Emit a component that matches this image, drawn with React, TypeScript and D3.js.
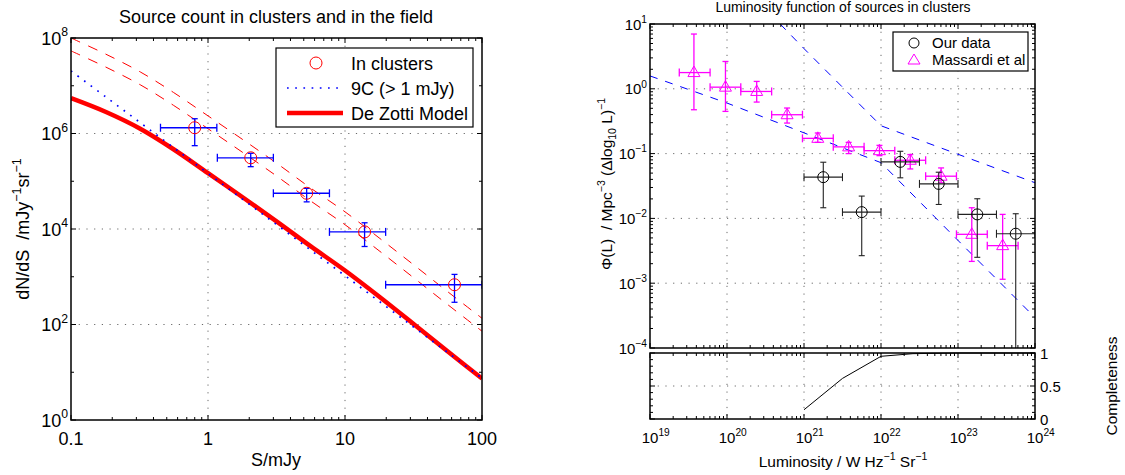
import React from 'react'
import * as d3 from 'd3'

const FONT = '"Liberation Sans", Arial, Helvetica, sans-serif'

// ---------- left panel: source counts ----------
const clusterS = [0.8, 2.05, 5.25, 13.9, 63]
const clusterSLo = [0.45, 1.17, 3.0, 7.7, 19.8]
const clusterSHi = [1.16, 3.0, 7.7, 19.8, 100]
const clusterN = [1.32e6, 3.1e5, 5.6e4, 8.7e3, 680]
const clusterNHi = [2.04e6, 3.85e5, 7.1e4, 1.35e4, 1120]
const clusterNLo = [5.56e5, 2.02e5, 3.7e4, 4.3e3, 292]

const modelS = [0.1, 0.18, 0.32, 0.56, 1, 1.8, 3.2, 5.6, 10, 18, 32, 56, 100]
const deZotti = [5.5e6, 2.82e6, 1.26e6, 4.68e5, 1.48e5, 4.57e4, 1.41e4, 4.37e3, 1.35e3, 372, 100, 27.5, 7.4]
const nineC = [2.04e7, 5.8e6, 1.69e6, 5.08e5, 1.46e5, 4.15e4, 1.21e4, 3.64e3, 1.05e3, 297, 86.5, 26.1, 7.5]
const clusterUpper = [1.0e8, 4.57e7, 1.95e7, 7.24e6, 2.34e6, 7.41e5, 2.34e5, 7.24e4, 2.29e4, 6.31e3, 1.74e3, 490, 135]
const clusterLower = [5.37e7, 2.45e7, 1.05e7, 3.89e6, 1.26e6, 3.98e5, 1.26e5, 3.89e4, 1.23e4, 3.39e3, 933, 263, 72.4]

const sTickLabels = ['0.1', '1', '10', '100']
const nTickExps = [0, 2, 4, 6, 8]

// ---------- right panel: luminosity function ----------
const ourL = [1.78e21, 5.62e21, 1.78e22, 5.62e22, 1.78e23, 5.62e23]
const ourLLo = [1e21, 3.16e21, 1e22, 3.16e22, 1e23, 3.16e23]
const ourLHi = [3.16e21, 1e22, 3.16e22, 1e23, 3.16e23, 1e24]
const ourPhi = [0.0433, 0.0125, 0.0745, 0.0341, 0.01153, 0.0058]
const ourPhiHi = [0.0736, 0.0221, 0.1086, 0.0516, 0.0201, 0.0118]
const ourPhiLo = [0.0146, 0.00266, 0.0423, 0.0164, 0.00251, 1e-5]

const masL = [3.72e19, 9.55e19, 2.43e20, 6.03e20, 1.51e21, 3.8e21, 9.55e21, 2.4e22, 6.03e22, 1.51e23, 3.8e23]
const masLLo = [2.4e19, 6.03e19, 1.51e20, 3.8e20, 9.55e20, 2.4e21, 6.03e21, 1.51e22, 3.8e22, 9.55e22, 2.4e23]
const masLHi = [6.03e19, 1.51e20, 3.8e20, 9.55e20, 2.4e21, 6.03e21, 1.51e22, 3.8e22, 9.55e22, 2.4e23, 6.03e23]
const masPhi = [1.78, 1.06, 0.91, 0.398, 0.172, 0.127, 0.111, 0.0789, 0.0448, 0.00568, 0.0038]
const masPhiHi = [7.0, 2.64, 1.3, 0.505, 0.208, 0.149, 0.134, 0.0966, 0.0601, 0.0146, 0.01153]
const masPhiLo = [0.475, 0.448, 0.624, 0.296, 0.149, 0.1, 0.093, 0.058, 0.0354, 0.00217, 0.00115]

const modelAL = [1e19, 1e20, 1e21, 1e22, 1e23, 1e24]
const modelAPhi = [1.58, 0.603, 0.209, 0.0724, 0.00457, 0.000295]
const modelBL = [4.9e20, 1e21, 1e22, 1e23, 1e24]
const modelBPhi = [10, 4.17, 0.269, 0.0977, 0.0355]

const complL = [1e21, 3.16e21, 1e22, 2.6e22, 1e23, 1e24]
const complV = [0.14, 0.615, 0.95, 0.99, 1.0, 1.0]

const lTickExps = [19, 20, 21, 22, 23, 24]
const phiTickExps = [1, 0, -1, -2, -3, -4]
const complTicks = [0, 0.5, 1]

// layout
const LP = { x0: 71, x1: 482, y0: 38, y1: 420 }
const RP = { x0: 650, x1: 1035, y0: 24, y1: 348, b0: 353, b1: 419 }

const minus = (e: number) => (e < 0 ? '\u2212' + Math.abs(e) : String(e))
const isDecade = (v: number) => Math.abs(Math.log10(v) - Math.round(Math.log10(v))) < 1e-6

const Pow = ({ x, y, exp, size, anchor }: { x: number; y: number; exp: number; size: number; anchor: string }) => (
  <text x={x} y={y} fontSize={size} textAnchor={anchor}>
    10<tspan dy={-size * 0.45} fontSize={size * 0.68}>{minus(exp)}</tspan>
  </text>
)

const GRID = { stroke: '#444', strokeWidth: 0.8, strokeDasharray: '1.2 6.5' }
const PRE = { whiteSpace: 'pre' as const }

function App() {
  const xL = d3.scaleLog().domain([0.1, 100]).range([LP.x0, LP.x1])
  const yL = d3.scaleLog().domain([1, 1e8]).range([LP.y1, LP.y0])
  const xR = d3.scaleLog().domain([1e19, 1e24]).range([RP.x0, RP.x1])
  const yR = d3.scaleLog().domain([1e-4, 10]).range([RP.y1, RP.y0])
  const yC = d3.scaleLinear().domain([0, 1]).range([RP.b1, RP.b0])

  const leftLine = (vals: number[]) =>
    d3.line<number>().x((_, i) => xL(modelS[i])).y(d => yL(d)).curve(d3.curveCatmullRom.alpha(0.5))(vals) || ''
  const rightLine = (ls: number[], vals: number[]) =>
    d3.line<number>().x((_, i) => xR(ls[i])).y(d => yR(d))(vals) || ''
  const complPath = d3.line<number>().x((_, i) => xR(complL[i])).y(d => yC(d))(complV) || ''

  const sTicks = xL.ticks()
  const lTicks = xR.ticks()
  const phiTicks = yR.ticks()
  const nMinor = d3.range(1, 8, 2).map(e => Math.pow(10, e))
  const complMinor = d3.range(0, 11).map(i => i / 10)

  return (
    <svg width={1125} height={475} style={{ position: 'absolute', left: 0, top: 0, background: '#fff' }} fontFamily={FONT}>
      <defs>
        <clipPath id="clipL"><rect x={LP.x0} y={LP.y0} width={LP.x1 - LP.x0} height={LP.y1 - LP.y0} /></clipPath>
        <clipPath id="clipR"><rect x={RP.x0} y={RP.y0} width={RP.x1 - RP.x0} height={RP.y1 - RP.y0} /></clipPath>
        <clipPath id="clipB"><rect x={RP.x0} y={RP.b0 - 2} width={RP.x1 - RP.x0} height={RP.b1 - RP.b0 + 2} /></clipPath>
      </defs>
      <rect width={1125} height={475} fill="#fff" />

      {/* ================= LEFT PANEL ================= */}
      <text x={276} y={23} fontSize={18} textAnchor="middle">Source count in clusters and in the field</text>
      <g>
        {[1, 10].map(v => <line key={'gx' + v} x1={xL(v)} x2={xL(v)} y1={LP.y0} y2={LP.y1} {...GRID} />)}
        {[2, 4, 6].map(e => <line key={'gy' + e} x1={LP.x0} x2={LP.x1} y1={yL(Math.pow(10, e))} y2={yL(Math.pow(10, e))} {...GRID} />)}
      </g>
      <g clipPath="url(#clipL)" fill="none">
        <path d={leftLine(clusterUpper)} stroke="#f00" strokeWidth={1} strokeDasharray="10 9" />
        <path d={leftLine(clusterLower)} stroke="#f00" strokeWidth={1} strokeDasharray="10 9" />
        <path d={leftLine(deZotti)} stroke="#f00" strokeWidth={4.5} />
        <path d={leftLine(nineC)} stroke="#00f" strokeWidth={1.7} strokeDasharray="1.7 6.5" />
        {clusterS.map((s, i) => (
          <g key={'c' + i} stroke="#00f" strokeWidth={1.3}>
            <line x1={xL(clusterSLo[i])} x2={xL(clusterSHi[i])} y1={yL(clusterN[i])} y2={yL(clusterN[i])} />
            <line x1={xL(clusterSLo[i])} x2={xL(clusterSLo[i])} y1={yL(clusterN[i]) - 4} y2={yL(clusterN[i]) + 4} />
            <line x1={xL(clusterSHi[i])} x2={xL(clusterSHi[i])} y1={yL(clusterN[i]) - 4} y2={yL(clusterN[i]) + 4} />
            <line x1={xL(s)} x2={xL(s)} y1={yL(clusterNLo[i])} y2={yL(clusterNHi[i])} />
            <line x1={xL(s) - 3} x2={xL(s) + 3} y1={yL(clusterNLo[i])} y2={yL(clusterNLo[i])} />
            <line x1={xL(s) - 3} x2={xL(s) + 3} y1={yL(clusterNHi[i])} y2={yL(clusterNHi[i])} />
            <circle cx={xL(s)} cy={yL(clusterN[i])} r={6} stroke="#f00" strokeWidth={1} />
          </g>
        ))}
      </g>
      {/* ticks */}
      <g stroke="#000" strokeWidth={1}>
        {sTicks.map((v, i) => {
          const len = isDecade(v) ? 5 : 3
          return (
            <g key={'st' + i}>
              <line x1={xL(v)} x2={xL(v)} y1={LP.y1} y2={LP.y1 - len} />
              <line x1={xL(v)} x2={xL(v)} y1={LP.y0} y2={LP.y0 + len} />
            </g>
          )
        })}
        {nTickExps.map(e => (
          <g key={'nt' + e}>
            <line x1={LP.x0} x2={LP.x0 + 5} y1={yL(Math.pow(10, e))} y2={yL(Math.pow(10, e))} />
            <line x1={LP.x1} x2={LP.x1 - 5} y1={yL(Math.pow(10, e))} y2={yL(Math.pow(10, e))} />
          </g>
        ))}
        {nMinor.map(v => (
          <g key={'nm' + v}>
            <line x1={LP.x0} x2={LP.x0 + 3} y1={yL(v)} y2={yL(v)} />
            <line x1={LP.x1} x2={LP.x1 - 3} y1={yL(v)} y2={yL(v)} />
          </g>
        ))}
      </g>
      <rect x={LP.x0} y={LP.y0} width={LP.x1 - LP.x0} height={LP.y1 - LP.y0} fill="none" stroke="#000" strokeWidth={1.5} />
      {[0.1, 1, 10, 100].map((v, i) => (
        <text key={'sl' + i} x={xL(v)} y={445} fontSize={18} textAnchor="middle">{sTickLabels[i]}</text>
      ))}
      {nTickExps.map(e => (
        <Pow key={'nl' + e} x={68} y={yL(Math.pow(10, e)) + 6.5} exp={e} size={18} anchor="end" />
      ))}
      <text x={276} y={466} fontSize={18} textAnchor="middle">S/mJy</text>
      <text transform="translate(29,229) rotate(-90)" fontSize={18} textAnchor="middle" style={PRE}>
        {'dN/dS  /mJy'}<tspan dy={-8} fontSize={12.5}>{'\u22121'}</tspan><tspan dy={8}>sr</tspan><tspan dy={-8} fontSize={12.5}>{'\u22121'}</tspan>
      </text>
      {/* legend */}
      <g>
        <rect x={276} y={48} width={197} height={79} fill="#fff" stroke="#000" strokeWidth={1.2} />
        <circle cx={316} cy={63} r={6} fill="none" stroke="#f00" strokeWidth={1} />
        <line x1={287} x2={343} y1={88} y2={88} stroke="#00f" strokeWidth={1.7} strokeDasharray="1.7 6.5" />
        <line x1={287} x2={343} y1={113} y2={113} stroke="#f00" strokeWidth={4.5} />
        <text x={351} y={69.5} fontSize={18}>In clusters</text>
        <text x={351} y={94.5} fontSize={18}>9C (&gt; 1 mJy)</text>
        <text x={351} y={119.5} fontSize={18}>De Zotti Model</text>
      </g>

      {/* ================= RIGHT PANEL ================= */}
      <text x={843} y={12} fontSize={14} textAnchor="middle">Luminosity function of sources in clusters</text>
      <g>
        {[1e20, 1e21, 1e22, 1e23].map(v => (
          <g key={'rg' + v}>
            <line x1={xR(v)} x2={xR(v)} y1={RP.y0} y2={RP.y1} {...GRID} />
            <line x1={xR(v)} x2={xR(v)} y1={RP.b0} y2={RP.b1} {...GRID} />
          </g>
        ))}
        {[0, -1, -2, -3].map(e => (
          <line key={'rgy' + e} x1={RP.x0} x2={RP.x1} y1={yR(Math.pow(10, e))} y2={yR(Math.pow(10, e))} {...GRID} />
        ))}
        <line x1={RP.x0} x2={RP.x1} y1={yC(0.5)} y2={yC(0.5)} {...GRID} />
      </g>
      <g clipPath="url(#clipR)" fill="none">
        <path d={rightLine(modelAL, modelAPhi)} stroke="#00f" strokeWidth={1} strokeDasharray="8 8" />
        <path d={rightLine(modelBL, modelBPhi)} stroke="#00f" strokeWidth={1} strokeDasharray="8 8" />
        {masL.map((l, i) => (
          <g key={'m' + i} stroke="#f0f" strokeWidth={1.3}>
            <line x1={xR(masLLo[i])} x2={xR(masLHi[i])} y1={yR(masPhi[i])} y2={yR(masPhi[i])} />
            <line x1={xR(masLLo[i])} x2={xR(masLLo[i])} y1={yR(masPhi[i]) - 4} y2={yR(masPhi[i]) + 4} />
            <line x1={xR(masLHi[i])} x2={xR(masLHi[i])} y1={yR(masPhi[i]) - 4} y2={yR(masPhi[i]) + 4} />
            <line x1={xR(l)} x2={xR(l)} y1={yR(masPhiLo[i])} y2={yR(masPhiHi[i])} />
            <line x1={xR(l) - 3} x2={xR(l) + 3} y1={yR(masPhiLo[i])} y2={yR(masPhiLo[i])} />
            <line x1={xR(l) - 3} x2={xR(l) + 3} y1={yR(masPhiHi[i])} y2={yR(masPhiHi[i])} />
            <path d={`M${xR(l)},${yR(masPhi[i]) - 6.5}L${xR(l) + 6},${yR(masPhi[i]) + 4}L${xR(l) - 6},${yR(masPhi[i]) + 4}Z`} strokeWidth={1} />
          </g>
        ))}
        {ourL.map((l, i) => (
          <g key={'o' + i} stroke="#222" strokeWidth={1.1}>
            <line x1={xR(ourLLo[i])} x2={xR(ourLHi[i])} y1={yR(ourPhi[i])} y2={yR(ourPhi[i])} />
            <line x1={xR(ourLLo[i])} x2={xR(ourLLo[i])} y1={yR(ourPhi[i]) - 4} y2={yR(ourPhi[i]) + 4} />
            <line x1={xR(ourLHi[i])} x2={xR(ourLHi[i])} y1={yR(ourPhi[i]) - 4} y2={yR(ourPhi[i]) + 4} />
            <line x1={xR(l)} x2={xR(l)} y1={yR(ourPhiLo[i])} y2={yR(ourPhiHi[i])} />
            <line x1={xR(l) - 3} x2={xR(l) + 3} y1={yR(ourPhiLo[i])} y2={yR(ourPhiLo[i])} />
            <line x1={xR(l) - 3} x2={xR(l) + 3} y1={yR(ourPhiHi[i])} y2={yR(ourPhiHi[i])} />
            <circle cx={xR(l)} cy={yR(ourPhi[i])} r={5.5} stroke="#000" strokeWidth={1} />
          </g>
        ))}
      </g>
      <g clipPath="url(#clipB)">
        <path d={complPath} fill="none" stroke="#000" strokeWidth={1} />
      </g>
      {/* ticks */}
      <g stroke="#000" strokeWidth={1}>
        {lTicks.map((v, i) => {
          const len = isDecade(v) ? 5 : 3
          return (
            <g key={'lt' + i}>
              <line x1={xR(v)} x2={xR(v)} y1={RP.y1} y2={RP.y1 - len} />
              <line x1={xR(v)} x2={xR(v)} y1={RP.y0} y2={RP.y0 + len} />
              <line x1={xR(v)} x2={xR(v)} y1={RP.b1} y2={RP.b1 - len} />
              <line x1={xR(v)} x2={xR(v)} y1={RP.b0} y2={RP.b0 + len} />
            </g>
          )
        })}
        {phiTicks.map((v, i) => {
          const len = isDecade(v) ? 5 : 3
          return (
            <g key={'pt' + i}>
              <line x1={RP.x0} x2={RP.x0 + len} y1={yR(v)} y2={yR(v)} />
              <line x1={RP.x1} x2={RP.x1 - len} y1={yR(v)} y2={yR(v)} />
            </g>
          )
        })}
        {complMinor.map((v, i) => {
          const len = i % 5 === 0 ? 5 : 3
          return (
            <g key={'ct' + i}>
              <line x1={RP.x0} x2={RP.x0 + len} y1={yC(v)} y2={yC(v)} />
              <line x1={RP.x1} x2={RP.x1 - len} y1={yC(v)} y2={yC(v)} />
            </g>
          )
        })}
      </g>
      <rect x={RP.x0} y={RP.y0} width={RP.x1 - RP.x0} height={RP.y1 - RP.y0} fill="none" stroke="#000" strokeWidth={1.5} />
      <rect x={RP.x0} y={RP.b0} width={RP.x1 - RP.x0} height={RP.b1 - RP.b0} fill="none" stroke="#000" strokeWidth={1.5} />
      {phiTickExps.map(e => (
        <Pow key={'pl' + e} x={647} y={yR(Math.pow(10, e)) + 5.5} exp={e} size={15} anchor="end" />
      ))}
      {lTickExps.map(e => (
        <Pow key={'ll' + e} x={xR(Math.pow(10, e)) - 8.3} y={443} exp={e} size={15} anchor="start" />
      ))}
      {complTicks.map(v => (
        <text key={'cl' + v} x={1040} y={yC(v) + 5.5} fontSize={15}>{String(v)}</text>
      ))}
      <text x={843} y={467} fontSize={15.5} textAnchor="middle" style={PRE}>
        {'Luminosity / W Hz'}<tspan dy={-7} fontSize={10.5}>{'\u22121'}</tspan><tspan dy={7}>{' Sr'}</tspan><tspan dy={-7} fontSize={10.5}>{'\u22121'}</tspan>
      </text>
      <text transform="translate(612,184) rotate(-90)" fontSize={15.5} textAnchor="middle" style={PRE}>
        {'\u03A6(L)  / Mpc'}<tspan dy={-7} fontSize={10.5}>{'\u22123'}</tspan><tspan dy={7}>{' (\u0394log'}</tspan><tspan dy={4} fontSize={10.5}>10</tspan><tspan dy={-4}>{' L)'}</tspan><tspan dy={-7} fontSize={10.5}>{'\u22121'}</tspan>
      </text>
      <text transform="translate(1117,386) rotate(-90)" fontSize={15.5} textAnchor="middle">Completeness</text>
      {/* legend */}
      <g>
        <rect x={893} y={32} width={135} height={39} fill="#fff" stroke="#000" strokeWidth={1.2} />
        <circle cx={914} cy={43} r={5} fill="none" stroke="#000" strokeWidth={1} />
        <path d="M914,54L920,64L908,64Z" fill="none" stroke="#f0f" strokeWidth={1} />
        <text x={932} y={48} fontSize={15}>Our data</text>
        <text x={932} y={65} fontSize={15}>Massardi et al</text>
      </g>
    </svg>
  )
}

export default App
